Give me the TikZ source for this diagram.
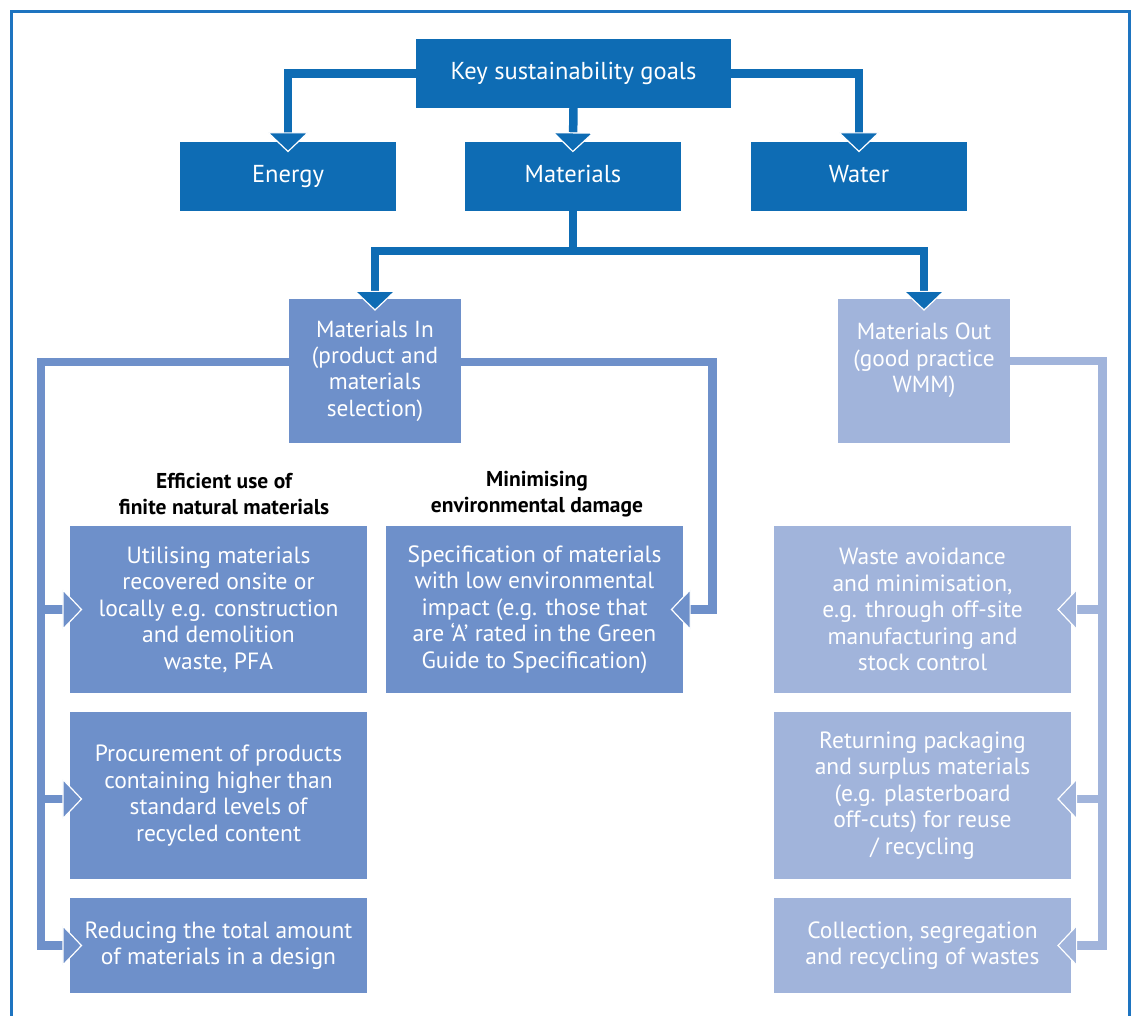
\documentclass[tikz,border=0pt]{standalone}
\usepackage{fontspec}
\setmainfont{PT Sans}
\usetikzlibrary{arrows.meta}
\definecolor{dark}{RGB}{14,108,180}
\definecolor{mid}{RGB}{110,144,202}
\definecolor{light}{RGB}{161,180,219}
\definecolor{framec}{RGB}{30,116,192}
\tikzset{
  box/.style={inner sep=0pt, align=center, text=white},
  topbox/.style={box, fill=dark, minimum width=216pt, minimum height=69pt, font=\fontsize{24.5}{29}\selectfont},
  midbox/.style={box, minimum width=172pt, minimum height=144pt, font=\fontsize{23.3}{26.3}\selectfont},
  leafbox/.style={box, minimum width=297pt, minimum height=167pt, font=\fontsize{23.5}{26.5}\selectfont},
  shortbox/.style={leafbox, minimum height=95pt},
  lab/.style={align=center, font=\bfseries\fontsize{21.5}{26}\selectfont, text=black},
  conn/.style={line width=8.5pt, draw=#1,
    -{Triangle[width=42pt,length=20pt,fill=#1,color=white,line width=1.2pt]}},
  plain/.style={line width=8.5pt, draw=#1},
}
\begin{document}
\begin{tikzpicture}[x=1pt,y=-1pt]
\useasboundingbox (0,0) rectangle (1136,1016);
\draw[framec, line width=2.6pt] (11.3,1030) -- (11.3,11.3) -- (1129.7,11.3) -- (1129.7,1030);

% top level
\node[topbox, minimum width=315pt] (key) at (573.5,73.5) {\strut Key sustainability goals};
\node[topbox] (energy) at (288,176.5) {\strut Energy};
\node[topbox] (mats) at (573,176.5) {\strut Materials};
\node[topbox] (water) at (859,176.5) {\strut Water};

% second level
\node[midbox, fill=mid] (min) at (375,371) {Materials In\\(product and\\materials\\selection)};
\node[midbox, fill=light] (mout) at (924,371) {Materials Out\\(good practice\\WMM)\\\mbox{}};

% labels
\node[lab] (lab1) at (224,494) {Efficient use of\\finite natural materials};
\node[lab] (lab2) at (537,494) {Minimising\\environmental damage};

% leaves
\node[leafbox, fill=mid] (b1) at (218.5,609.5) {Utilising materials\\recovered onsite or\\locally e.g. construction\\and demolition\\waste, PFA};
\node[leafbox, fill=mid] (spec) at (534.5,609.5) {Specification of materials\\with low environmental\\impact (e.g. those that\\are ‘A’ rated in the Green\\Guide to Specification)};
\node[leafbox, fill=mid] (b2) at (218.5,795.5) {Procurement of products\\containing higher than\\standard levels of\\recycled content};
\node[shortbox, fill=mid] (b3) at (218.5,945.5) {Reducing the total amount\\of materials in a design};

\node[leafbox, fill=light] (r1) at (922.5,609.5) {Waste avoidance\\and minimisation,\\e.g. through off-site\\manufacturing and\\stock control};
\node[leafbox, fill=light] (r2) at (922.5,795.5) {Returning packaging\\and surplus materials\\(e.g. plasterboard\\off-cuts) for reuse\\/ recycling};
\node[shortbox, fill=light] (r3) at (922.5,945.5) {Collection, segregation\\and recycling of wastes};

% helper coordinates
\coordinate (split) at (573,251);
\coordinate (lx) at (41,0);
\coordinate (sx) at (712.5,0);
\coordinate (rx) at (1102.5,0);
\coordinate (minL) at ([yshift=9pt]min.west);
\coordinate (minR) at ([yshift=9pt]min.east);
\coordinate (moutR) at ([yshift=10pt]mout.east);
\coordinate (b2in) at ([yshift=-3.5pt]b2.west);
\coordinate (r2in) at ([yshift=-3.5pt]r2.east);

% top connectors
\draw[conn=dark, shorten >=-10.5pt] (key.west) -| (energy.north);
\draw[conn=dark, shorten >=-10.5pt] (key.east) -| (water.north);
\draw[conn=dark, shorten >=-10.5pt] (key.south) -- (mats.north);
\draw[plain=dark] (mats.south) -- (split);
\draw[conn=dark, shorten >=-12pt] (split) -| (min.north);
\draw[conn=dark, shorten >=-12pt] (split) -| (mout.north);

% materials in
\draw[conn=mid, shorten >=-12.5pt] (minL) -| (lx |- b3.west) -- (b3.west);
\draw[conn=mid, shorten >=-12.5pt] (lx |- b1.west) -- (b1.west);
\draw[conn=mid, shorten >=-12.5pt] (lx |- b2in) -- (b2in);
\draw[conn=mid, shorten >=-12.5pt] (minR) -| (sx |- spec.east) -- (spec.east);

% materials out
\draw[conn=light, shorten >=-14pt] (moutR) -| (rx |- r3.east) -- (r3.east);
\draw[conn=light, shorten >=-14pt] (rx |- r1.east) -- (r1.east);
\draw[conn=light, shorten >=-14pt] (rx |- r2in) -- (r2in);
\end{tikzpicture}
\end{document}
